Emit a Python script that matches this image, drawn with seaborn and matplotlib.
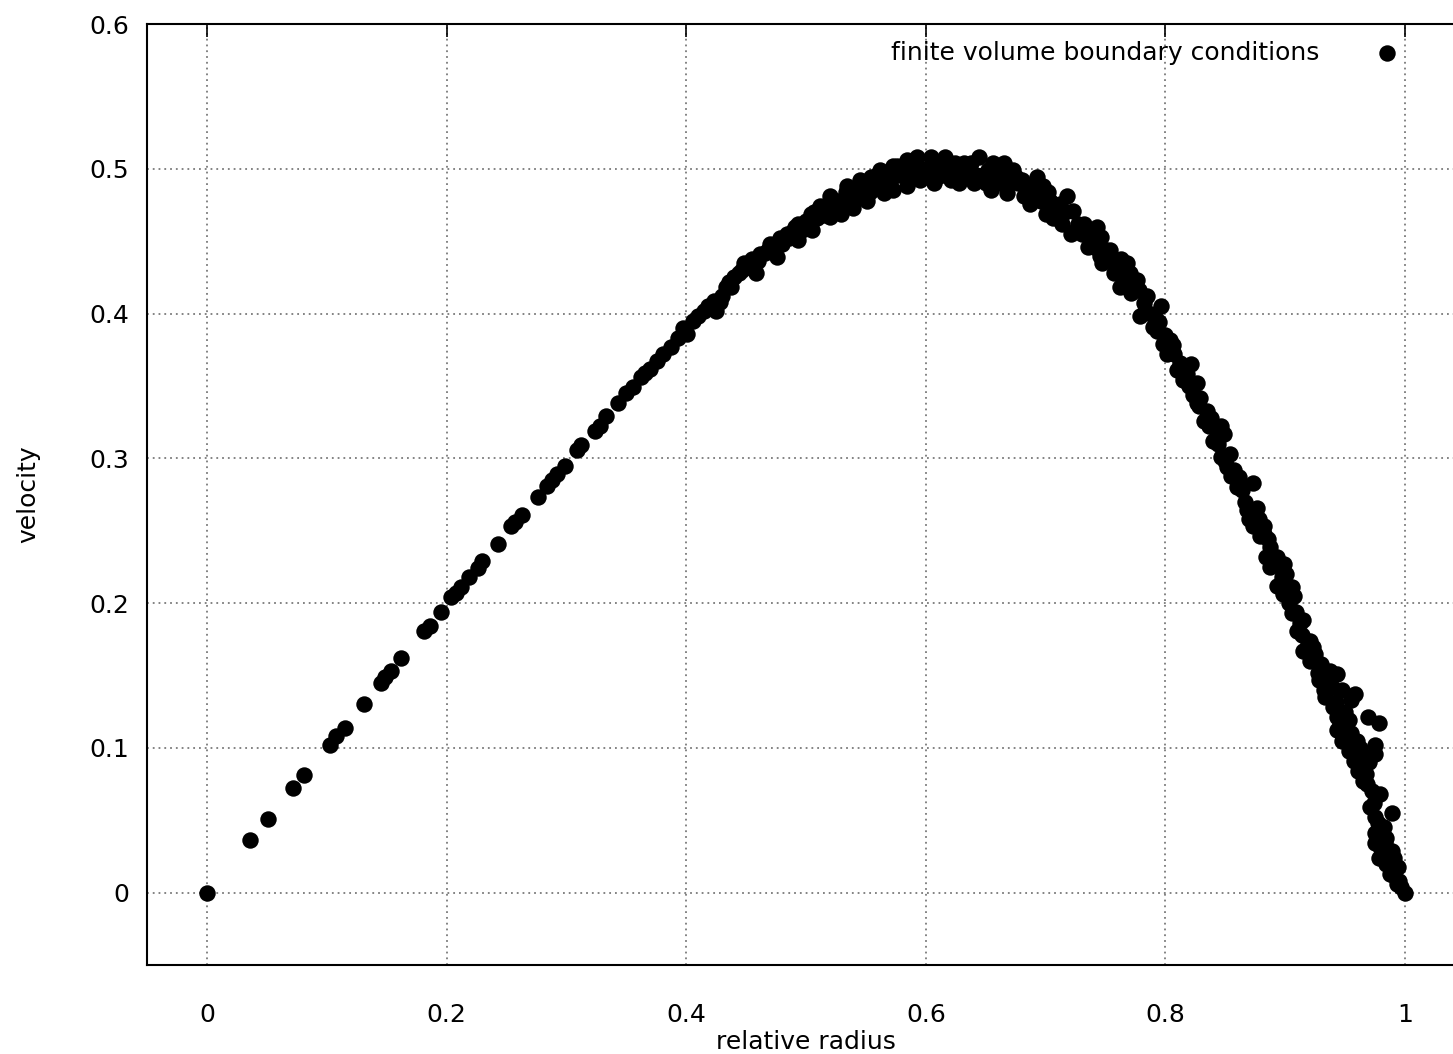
import matplotlib
matplotlib.use("Agg")
import matplotlib.pyplot as plt
import numpy as np
import pandas as pd
import seaborn as sbn

# values (relative radius, velocity)
radius = [
    0.000, 0.036, 0.051, 0.072, 0.081, 0.103, 0.108, 0.115, 0.131, 0.145,
    0.149, 0.154, 0.162, 0.181, 0.186, 0.195, 0.204,
    0.208, 0.212, 0.219, 0.226, 0.230, 0.243, 0.254, 0.257, 0.263, 0.276,
    0.284, 0.288, 0.292, 0.299, 0.309, 0.312, 0.324, 0.328, 0.333, 0.343,
    0.350, 0.356, 0.362, 0.366, 0.370, 0.376, 0.381, 0.387, 0.393, 0.397,
    0.401, 0.406,
    0.423, 0.425, 0.437, 0.440, 0.448, 0.458, 0.462, 0.470, 0.476, 0.484,
    0.493, 0.493, 0.504, 0.505, 0.512, 0.520, 0.520, 0.529, 0.534, 0.539,
    0.545, 0.551, 0.554, 0.562, 0.565, 0.573, 0.573, 0.584, 0.584, 0.593,
    0.595, 0.604, 0.607,
    0.609, 0.616, 0.621, 0.632, 0.640, 0.644, 0.652, 0.654, 0.665, 0.668,
    0.673, 0.682, 0.687, 0.693, 0.698, 0.700, 0.704, 0.714, 0.718, 0.723,
    0.721, 0.732, 0.735, 0.743, 0.746, 0.747, 0.754, 0.757, 0.768, 0.762,
    0.776, 0.771, 0.782, 0.779, 0.796, 0.793, 0.798, 0.801,
    0.790, 0.804, 0.821, 0.810, 0.815, 0.826, 0.826, 0.835, 0.832, 0.846,
    0.840, 0.849, 0.846, 0.854, 0.851, 0.861, 0.860, 0.873, 0.868, 0.876,
    0.873, 0.882, 0.887, 0.891, 0.899, 0.887, 0.901, 0.893, 0.906, 0.907,
    0.871, 0.876, 0.882, 0.893, 0.896, 0.904, 0.906, 0.915, 0.910, 0.921,
    0.915, 0.925, 0.921, 0.937, 0.943, 0.928, 0.939, 0.933, 0.947, 0.958,
    0.955, 0.940, 0.943, 0.969, 0.953, 0.978, 0.943, 0.955, 0.947, 0.960,
    0.975, 0.953, 0.964, 0.975, 0.957, 0.961, 0.967,
    0.965, 0.979, 0.971, 0.989, 0.975, 0.975, 0.984, 0.975, 0.989, 0.978,
    0.984, 0.994, 0.987, 0.995, 0.997, 1.000,
    # points in the middle of the dense band
    0.410, 0.415, 0.430, 0.433, 0.444, 0.452, 0.455, 0.466, 0.473, 0.480,
    0.488, 0.497, 0.500, 0.509, 0.516, 0.524, 0.531, 0.536, 0.542, 0.548,
    0.557, 0.560, 0.568, 0.578, 0.580, 0.588, 0.598, 0.602, 0.612, 0.618,
    0.626, 0.630, 0.636, 0.648, 0.658, 0.660, 0.670, 0.677, 0.684, 0.690,
    0.696, 0.708, 0.711, 0.727, 0.730, 0.738, 0.750, 0.752, 0.760, 0.765,
    0.773, 0.785, 0.788, 0.792, 0.807, 0.812, 0.818, 0.823, 0.829, 0.838,
    0.843, 0.857, 0.864, 0.866, 0.879, 0.884, 0.897, 0.903, 0.912, 0.918,
    0.930, 0.935, 0.950, 0.962, 0.970, 0.972, 0.982, 0.991, 0.980,
    0.418, 0.428, 0.436, 0.447, 0.460, 0.468, 0.478, 0.486, 0.491, 0.502,
    0.507, 0.514, 0.518, 0.527, 0.533, 0.540, 0.547, 0.553, 0.559, 0.563,
    0.570, 0.576, 0.586, 0.590, 0.597, 0.606, 0.614, 0.624, 0.628, 0.638,
    0.642, 0.650, 0.656, 0.663, 0.667, 0.675, 0.680, 0.688, 0.694, 0.702,
    0.706, 0.712, 0.716, 0.725, 0.734, 0.740, 0.745, 0.756, 0.763, 0.770,
    0.778, 0.783, 0.795, 0.800, 0.806, 0.813, 0.820, 0.828, 0.836, 0.844,
    0.850, 0.855, 0.862, 0.870, 0.878, 0.886, 0.890, 0.898, 0.909, 0.914,
    0.923, 0.927, 0.932, 0.942, 0.946, 0.951, 0.958, 0.963, 0.968, 0.974,
    0.977, 0.983, 0.986, 0.990, 0.993,
]
velocity = [
    0.000, 0.036, 0.051, 0.072, 0.081, 0.102, 0.108, 0.114, 0.130, 0.145,
    0.149, 0.153, 0.162, 0.181, 0.184, 0.194, 0.204,
    0.207, 0.211, 0.218, 0.224, 0.229, 0.241, 0.253, 0.256, 0.261, 0.273,
    0.281, 0.285, 0.289, 0.295, 0.306, 0.309, 0.319, 0.322, 0.329, 0.338,
    0.345, 0.349, 0.356, 0.359, 0.362, 0.367, 0.372, 0.377, 0.383, 0.390,
    0.386, 0.395,
    0.409, 0.402, 0.418, 0.425, 0.435, 0.428, 0.441, 0.448, 0.439, 0.455,
    0.462, 0.451, 0.469, 0.458, 0.474, 0.481, 0.467, 0.469, 0.488, 0.473,
    0.492, 0.478, 0.494, 0.499, 0.483, 0.502, 0.485, 0.506, 0.488, 0.508,
    0.492, 0.508, 0.490,
    0.494, 0.508, 0.492, 0.504, 0.490, 0.508, 0.499, 0.485, 0.504, 0.483,
    0.499, 0.481, 0.476, 0.494, 0.488, 0.469, 0.478, 0.462, 0.481, 0.471,
    0.455, 0.462, 0.446, 0.460, 0.453, 0.435, 0.444, 0.428, 0.435, 0.418,
    0.423, 0.414, 0.407, 0.398, 0.405, 0.388, 0.379, 0.372,
    0.391, 0.382, 0.365, 0.361, 0.354, 0.352, 0.338, 0.333, 0.326, 0.322,
    0.312, 0.317, 0.301, 0.303, 0.294, 0.287, 0.280, 0.283, 0.264, 0.266,
    0.253, 0.253, 0.239, 0.229, 0.227, 0.225, 0.220, 0.212, 0.211, 0.205,
    0.264, 0.255, 0.248, 0.232, 0.213, 0.211, 0.193, 0.188, 0.181, 0.174,
    0.167, 0.165, 0.160, 0.153, 0.151, 0.147, 0.142, 0.135, 0.140, 0.137,
    0.133, 0.128, 0.121, 0.121, 0.119, 0.117, 0.112, 0.110, 0.105, 0.105,
    0.102, 0.098, 0.096, 0.096, 0.091, 0.084, 0.082,
    0.077, 0.068, 0.059, 0.055, 0.052, 0.041, 0.038, 0.034, 0.029, 0.024,
    0.020, 0.018, 0.013, 0.008, 0.004, 0.000,
    0.398, 0.402, 0.412, 0.418, 0.428, 0.432, 0.438, 0.442, 0.446, 0.448,
    0.456, 0.458, 0.464, 0.466, 0.472, 0.474, 0.478, 0.480, 0.484, 0.486,
    0.488, 0.492, 0.494, 0.496, 0.500, 0.498, 0.500, 0.500, 0.500, 0.502,
    0.498, 0.494, 0.500, 0.496, 0.494, 0.500, 0.492, 0.490, 0.488, 0.486,
    0.478, 0.472, 0.466, 0.462, 0.455, 0.452, 0.444, 0.438, 0.432, 0.426,
    0.422, 0.412, 0.400, 0.396, 0.372, 0.366, 0.358, 0.344, 0.342, 0.328,
    0.318, 0.292, 0.278, 0.270, 0.246, 0.232, 0.218, 0.200, 0.186, 0.170,
    0.158, 0.145, 0.125, 0.100, 0.090, 0.070, 0.045, 0.024, 0.030,
    0.405, 0.408, 0.422, 0.430, 0.436, 0.444, 0.452, 0.452, 0.460, 0.462,
    0.470, 0.468, 0.476, 0.478, 0.484, 0.478, 0.490, 0.484, 0.496, 0.490,
    0.490, 0.502, 0.494, 0.504, 0.496, 0.504, 0.496, 0.504, 0.490, 0.504,
    0.496, 0.490, 0.504, 0.490, 0.498, 0.494, 0.492, 0.480, 0.482, 0.484,
    0.466, 0.476, 0.470, 0.458, 0.456, 0.446, 0.440, 0.436, 0.438, 0.428,
    0.416, 0.402, 0.394, 0.385, 0.378, 0.360, 0.350, 0.336, 0.322, 0.310,
    0.298, 0.288, 0.282, 0.258, 0.258, 0.244, 0.226, 0.206, 0.194, 0.178,
    0.170, 0.152, 0.140, 0.132, 0.116, 0.108, 0.102, 0.090, 0.075, 0.062,
    0.048, 0.034, 0.022, 0.012, 0.006,
]
x_ticks = [0, 0.2, 0.4, 0.6, 0.8, 1.0]
x_tick_labels = ["0", "0.2", "0.4", "0.6", "0.8", "1"]
y_ticks = [0, 0.1, 0.2, 0.3, 0.4, 0.5, 0.6]
y_tick_labels = ["0", "0.1", "0.2", "0.3", "0.4", "0.5", "0.6"]

df = pd.DataFrame({"radius": radius, "velocity": velocity})

sbn.set_style("white")
plt.rcParams["font.family"] = ["DejaVu Sans"]
plt.rcParams["font.size"] = 18
plt.rcParams["text.color"] = "black"
plt.rcParams["xtick.color"] = "black"
plt.rcParams["ytick.color"] = "black"
plt.rcParams["axes.labelcolor"] = "black"

W, H = 1453, 1054
fig = plt.figure(figsize=(W / 100, H / 100), dpi=100)
# gnuplot-like frame: right edge falls just outside the canvas
axes = fig.add_axes([147 / W, (H - 965) / H, (1465 - 147) / W, (965 - 24) / H])

sbn.scatterplot(
    data=df, x="radius", y="velocity", ax=axes, color="black", s=140,
    linewidth=0, label="finite volume boundary conditions", zorder=3,
)

axes.set_xlim(-0.05, 1.05)
axes.set_ylim(-0.05, 0.6)
axes.set_xticks(x_ticks, x_tick_labels)
axes.set_yticks(y_ticks, y_tick_labels)
axes.grid(True, color="#7a7a7a", linestyle=(0, (1, 2.2)), linewidth=1.3)
axes.set_axisbelow(True)
for sp in axes.spines.values():
    sp.set_visible(True)
    sp.set_linewidth(1.5)
    sp.set_color("black")
axes.tick_params(axis="both", direction="in", length=9, width=1.2,
                 top=True, right=True, labelsize=18, color="black",
                 labelcolor="black")
axes.tick_params(axis="x", pad=27)
axes.tick_params(axis="y", pad=13)

axes.set_xlabel("relative radius", fontsize=18, color="black")
axes.set_ylabel("velocity", fontsize=18, color="black")
axes.xaxis.set_label_coords(0.5, -0.069)
axes.yaxis.set_label_coords(-0.081, 0.5)

leg = axes.legend(
    loc="upper right", bbox_to_anchor=(1412 / W, (H - 41) / H),
    bbox_transform=fig.transFigure, frameon=False, markerfirst=False,
    handlelength=2.0, handletextpad=1.72, borderpad=0, borderaxespad=0,
    fontsize=18, scatterpoints=1,
)
for t in leg.get_texts():
    t.set_color("black")

fig.savefig("out.png", dpi=100)
